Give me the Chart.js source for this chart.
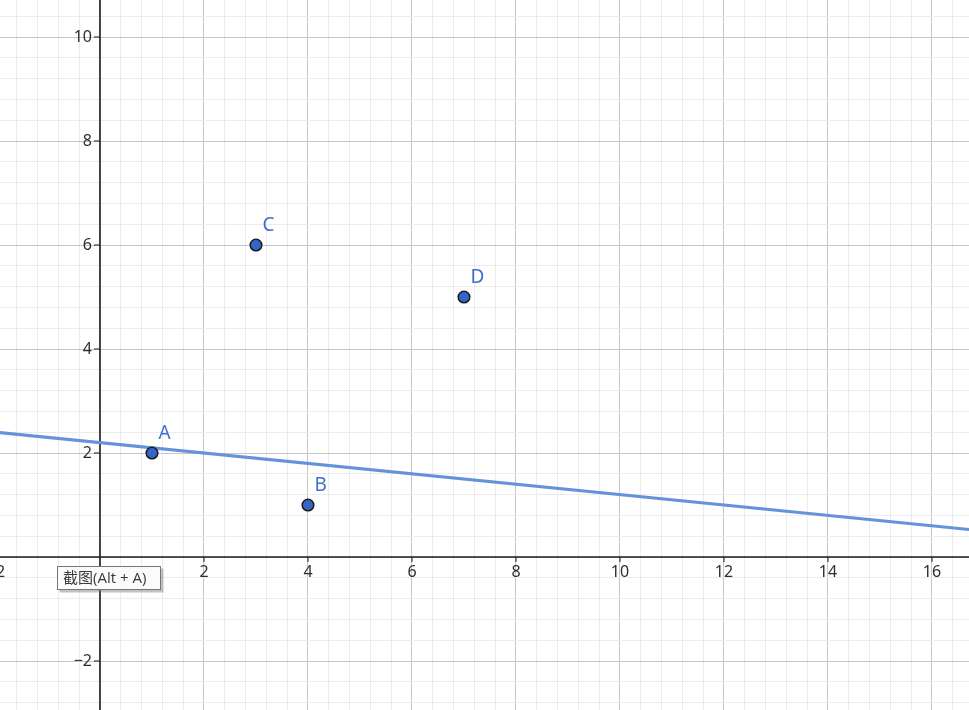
<!DOCTYPE html>
<html>
<head>
<meta charset="utf-8">
<script src="https://cdn.jsdelivr.net/npm/chart.js@4/dist/chart.umd.min.js"></script>
<style>
  html, body { margin: 0; padding: 0; background: #ffffff; overflow: hidden; }
  #wrap { position: relative; width: 969px; height: 710px; }
</style>
</head>
<body>
<div id="wrap"><canvas id="c"></canvas></div>
<script>
// ---- data ----
const pointNames = ['A', 'B', 'C', 'D'];
const pointX = [1, 4, 3, 7];
const pointY = [2, 1, 6, 5];
const lineX = [-2, 17];
const lineY = [2.4, 0.5];
const xTickLabels = [-2, 2, 4, 6, 8, 10, 12, 14, 16];
const yTickLabels = [-2, 2, 4, 6, 8, 10];
const xRange = [-1.923, 16.712];
const yRange = [-2.942, 10.712];
const majorStep = 2;
const minorStep = 0.4;
const tooltipText = '截图(Alt + A)';

// ---- styles ----
const pointFill = '#3466c6';
const pointBorder = '#1c1c1c';
const labelColor = '#3f71cf';
const lineColor = '#6592da';
const majorGrid = '#c6c6c6';
const minorGrid = '#ececec';
const axisColor = '#1e1e1e';
const tickTextColor = '#2e2e2e';

function isMajor(v) {
  const r = v / majorStep;
  return Math.abs(r - Math.round(r)) < 1e-6;
}
function buildMinorTicks(scale) {
  const ticks = [];
  const k0 = Math.ceil(scale.min / minorStep);
  const k1 = Math.floor(scale.max / minorStep);
  for (let k = k0; k <= k1; k++) ticks.push({ value: +(k * minorStep).toFixed(6) });
  scale.ticks = ticks;
}
function fmt(v) { return v < 0 ? '\u2212' + Math.abs(v) : String(v); }

const geoPlugin = {
  id: 'geoAxes',
  beforeDatasetsDraw(chart) {
    const ctx = chart.ctx;
    const xs = chart.scales.x, ys = chart.scales.y;
    const x0 = xs.getPixelForValue(0);
    const y0 = ys.getPixelForValue(0);
    ctx.save();
    // axes
    ctx.strokeStyle = axisColor;
    ctx.lineWidth = 1.6;
    ctx.beginPath();
    ctx.moveTo(0, y0); ctx.lineTo(chart.width, y0);
    ctx.moveTo(x0, 0); ctx.lineTo(x0, chart.height);
    ctx.stroke();
    // tick marks
    ctx.lineWidth = 1;
    ctx.beginPath();
    xTickLabels.forEach(v => {
      const px = xs.getPixelForValue(v);
      ctx.moveTo(px, y0); ctx.lineTo(px, y0 + 5);
    });
    yTickLabels.forEach(v => {
      const py = ys.getPixelForValue(v);
      ctx.moveTo(x0 - 6, py); ctx.lineTo(x0, py);
    });
    ctx.stroke();
    // tick labels
    ctx.fillStyle = tickTextColor;
    ctx.font = '16px "Noto Sans", "DejaVu Sans", sans-serif';
    ctx.textAlign = 'center';
    ctx.textBaseline = 'middle';
    xTickLabels.forEach(v => {
      const px = xs.getPixelForValue(v);
      ctx.fillText(fmt(v), px, y0 + 15);
    });
    ctx.textAlign = 'right';
    yTickLabels.forEach(v => {
      const py = ys.getPixelForValue(v);
      ctx.fillText(fmt(v), x0 - 8, py);
    });
    ctx.restore();
  },
  afterDatasetsDraw(chart) {
    const ctx = chart.ctx;
    const meta = chart.getDatasetMeta(0);
    ctx.save();
    ctx.fillStyle = labelColor;
    ctx.font = '19px "Noto Sans", "DejaVu Sans", sans-serif';
    ctx.textAlign = 'left';
    ctx.textBaseline = 'middle';
    meta.data.forEach((el, i) => {
      ctx.fillText(pointNames[i], el.x + 6.5, el.y - 19);
    });
    // screenshot tooltip box
    const xs = chart.scales.x, ys = chart.scales.y;
    const bx = Math.round(xs.getPixelForValue(0)) - 42.5;
    const by = Math.round(ys.getPixelForValue(0)) + 9.5;
    const bw = 103, bh = 23;
    ctx.fillStyle = 'rgba(120,120,120,0.45)';
    ctx.fillRect(bx + 2, by + 2, bw + 1, bh + 1);
    ctx.fillStyle = '#fbfbfb';
    ctx.fillRect(bx, by, bw, bh);
    ctx.strokeStyle = '#767676';
    ctx.lineWidth = 1;
    ctx.strokeRect(bx, by, bw, bh);
    ctx.fillStyle = '#3a3a3a';
    ctx.font = '15px "Open Sans", "Noto Sans CJK SC", sans-serif';
    ctx.textAlign = 'left';
    ctx.textBaseline = 'middle';
    ctx.fillText(tooltipText, bx + 5.5, by + bh / 2 + 0.5);
    ctx.restore();
  }
};

const pointData = pointX.map((x, i) => ({ x: x, y: pointY[i] }));
const lineData = lineX.map((x, i) => ({ x: x, y: lineY[i] }));

new Chart(document.getElementById('c'), {
  type: 'scatter',
  data: {
    datasets: [
      {
        label: 'points',
        data: pointData,
        backgroundColor: pointFill,
        borderColor: pointBorder,
        borderWidth: 1.5,
        pointRadius: 5.8,
        showLine: false
      },
      {
        type: 'line',
        label: 'line',
        data: lineData,
        borderColor: lineColor,
        borderWidth: 3,
        pointRadius: 0,
        fill: false,
        tension: 0
      }
    ]
  },
  options: {
    responsive: true,
    maintainAspectRatio: false,
    animation: false,
    layout: { padding: 0, autoPadding: false },
    plugins: { legend: { display: false }, tooltip: { enabled: false } },
    events: [],
    scales: {
      x: {
        type: 'linear',
        min: xRange[0],
        max: xRange[1],
        afterBuildTicks: buildMinorTicks,
        ticks: { display: false },
        border: { display: false },
        grid: {
          drawTicks: false,
          lineWidth: 1,
          color: c => isMajor(c.tick.value) ? majorGrid : minorGrid
        }
      },
      y: {
        type: 'linear',
        min: yRange[0],
        max: yRange[1],
        afterBuildTicks: buildMinorTicks,
        ticks: { display: false },
        border: { display: false },
        grid: {
          drawTicks: false,
          lineWidth: 1,
          color: c => isMajor(c.tick.value) ? majorGrid : minorGrid
        }
      }
    }
  },
  plugins: [geoPlugin]
});
</script>
</body>
</html>
